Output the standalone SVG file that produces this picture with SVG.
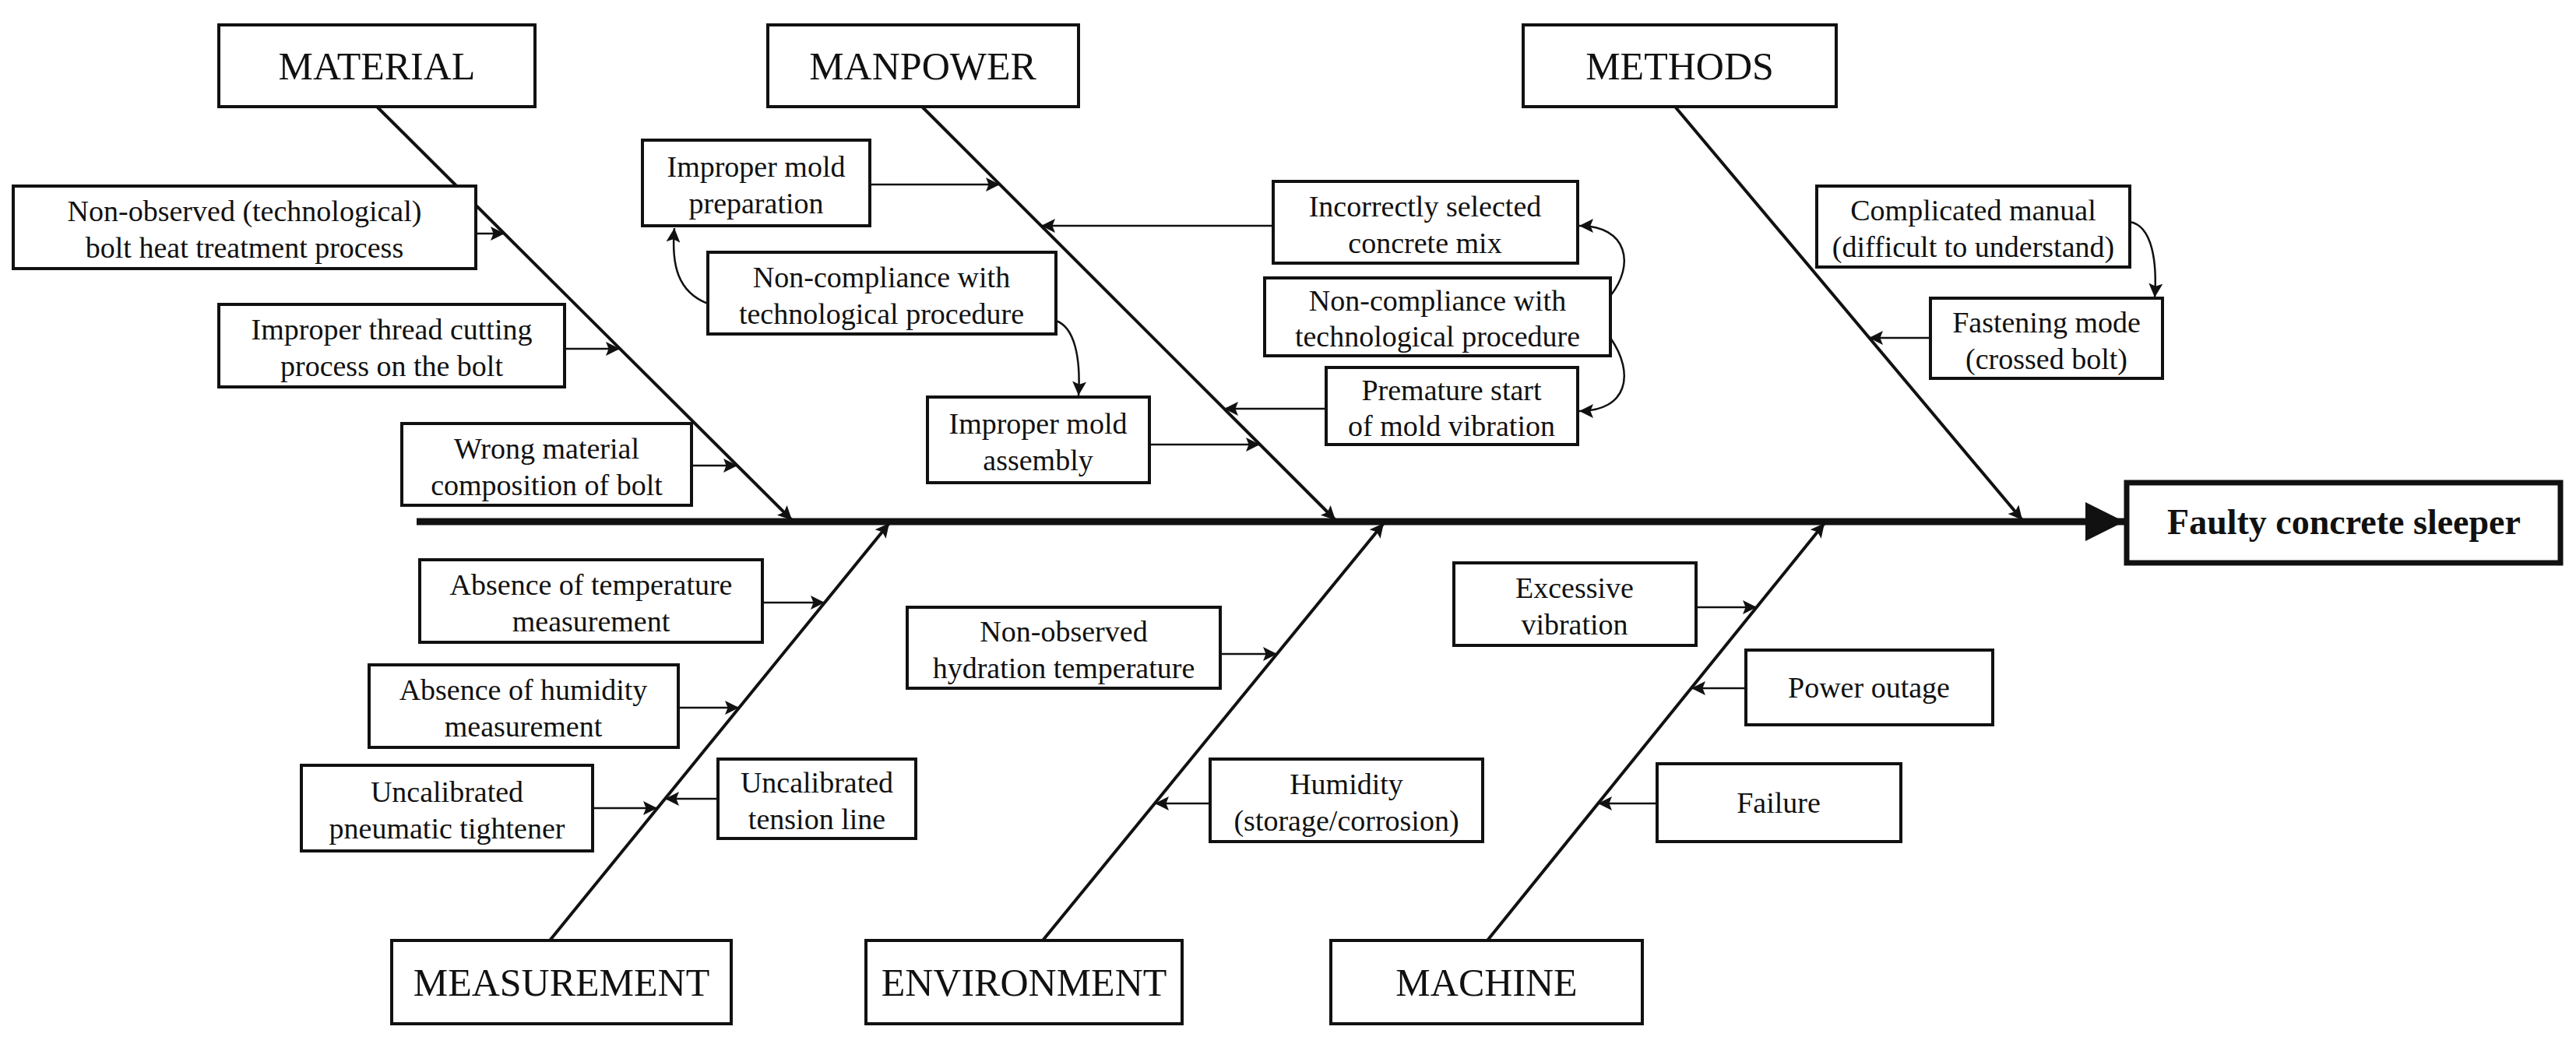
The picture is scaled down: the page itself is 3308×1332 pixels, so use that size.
<svg xmlns="http://www.w3.org/2000/svg" width="3308" height="1332" viewBox="0 0 3308 1332">
<style>
text{font-family:"Liberation Serif","Times New Roman",serif;fill:#111;text-anchor:middle}
.c{font-size:38px}
.cat{font-size:50px}
.b{fill:#fff;stroke:#111;stroke-width:4}
.bone{stroke:#111;stroke-width:4;fill:none}
.a{stroke:#111;stroke-width:2.5;fill:none}
</style>
<defs>
<marker id="ah" viewBox="0 0 10 10" refX="10" refY="5" markerWidth="10" markerHeight="10" markerUnits="userSpaceOnUse" orient="auto"><path d="M0,0 L10,5 L0,10 z" fill="#111"/></marker>
<marker id="am" viewBox="0 0 10 10" refX="10" refY="5" markerWidth="22" markerHeight="18" markerUnits="userSpaceOnUse" orient="auto"><path d="M0,0 L10,5 L0,10 L2,5 z" fill="#111"/></marker>
<marker id="big" viewBox="0 0 10 10" refX="10" refY="5" markerWidth="62" markerHeight="50" markerUnits="userSpaceOnUse" orient="auto"><path d="M0,0 L10,5 L0,10 z" fill="#111"/></marker>
</defs>
<rect width="3308" height="1332" fill="#fff"/>
<g id="connectors">
<line x1="535" y1="670" x2="2728" y2="670" stroke="#111" stroke-width="9" marker-end="url(#big)"/>
<line class="bone" x1="484" y1="137" x2="1017" y2="668" marker-end="url(#am)"/>
<line class="bone" x1="1184" y1="137" x2="1715" y2="668" marker-end="url(#am)"/>
<line class="bone" x1="2151" y1="137" x2="2597" y2="668" marker-end="url(#am)"/>
<line class="bone" x1="706" y1="1208" x2="1142" y2="672" marker-end="url(#am)"/>
<line class="bone" x1="1339" y1="1208" x2="1777" y2="672" marker-end="url(#am)"/>
<line class="bone" x1="1910" y1="1208" x2="2343" y2="672" marker-end="url(#am)"/>
<line class="a" x1="611" y1="300" x2="648" y2="300" marker-end="url(#am)"/>
<line class="a" x1="725" y1="448" x2="796" y2="448" marker-end="url(#am)"/>
<line class="a" x1="888" y1="598" x2="947" y2="598" marker-end="url(#am)"/>
<line class="a" x1="1117" y1="237" x2="1284" y2="237" marker-end="url(#am)"/>
<line class="a" x1="1476" y1="571" x2="1618" y2="571" marker-end="url(#am)"/>
<line class="a" x1="1635" y1="290" x2="1337" y2="290" marker-end="url(#am)"/>
<line class="a" x1="1703" y1="525" x2="1572" y2="525" marker-end="url(#am)"/>
<line class="a" x1="2479" y1="434" x2="2400" y2="434" marker-end="url(#am)"/>
<line class="a" x1="979" y1="774" x2="1059" y2="774" marker-end="url(#am)"/>
<line class="a" x1="871" y1="909" x2="949" y2="909" marker-end="url(#am)"/>
<line class="a" x1="761" y1="1038" x2="844" y2="1038" marker-end="url(#am)"/>
<line class="a" x1="922" y1="1026" x2="854" y2="1026" marker-end="url(#am)"/>
<line class="a" x1="1567" y1="840" x2="1640" y2="840" marker-end="url(#am)"/>
<line class="a" x1="1554" y1="1032" x2="1483" y2="1032" marker-end="url(#am)"/>
<line class="a" x1="2178" y1="780" x2="2256" y2="780" marker-end="url(#am)"/>
<line class="a" x1="2242" y1="884" x2="2172" y2="884" marker-end="url(#am)"/>
<line class="a" x1="2128" y1="1032" x2="2052" y2="1032" marker-end="url(#am)"/>
<path class="a" d="M909,390 C870,375 862,340 866,293" marker-end="url(#am)"/>
<path class="a" d="M1356,412 C1380,420 1388,460 1385,508" marker-end="url(#am)"/>
<path class="a" d="M2068,380 C2100,340 2090,290 2028,290" marker-end="url(#am)"/>
<path class="a" d="M2068,434 C2100,480 2090,528 2028,528" marker-end="url(#am)"/>
<path class="a" d="M2735,285 C2765,290 2770,340 2767,382" marker-end="url(#am)"/>
</g>
<g id="material"><rect class="b" x="281" y="32" width="406" height="105"/><text class="cat" x="484" y="102">MATERIAL</text></g>
<g id="manpower"><rect class="b" x="986" y="32" width="399" height="105"/><text class="cat" x="1185" y="102">MANPOWER</text></g>
<g id="methods"><rect class="b" x="1956" y="32" width="402" height="105"/><text class="cat" x="2157" y="102">METHODS</text></g>
<g id="measurement"><rect class="b" x="503" y="1208" width="436" height="107"/><text class="cat" x="721" y="1279">MEASUREMENT</text></g>
<g id="environment"><rect class="b" x="1112" y="1208" width="406" height="107"/><text class="cat" x="1315" y="1279">ENVIRONMENT</text></g>
<g id="machine"><rect class="b" x="1709" y="1208" width="400" height="107"/><text class="cat" x="1909" y="1279">MACHINE</text></g>
<g id="effect"><rect x="2731" y="620" width="557" height="103" fill="#fff" stroke="#111" stroke-width="7"/><text x="3010" y="686" font-size="46" font-weight="bold">Faulty concrete sleeper</text></g>
<g id="c1"><rect class="b" x="17" y="239" width="594" height="106"/><text class="c" x="314" y="284">Non-observed (technological)</text><text class="c" x="314" y="331">bolt heat treatment process</text></g>
<g id="c2"><rect class="b" x="281" y="391" width="444" height="106"/><text class="c" x="503" y="436">Improper thread cutting</text><text class="c" x="503" y="483">process on the bolt</text></g>
<g id="c3"><rect class="b" x="516" y="544" width="372" height="105"/><text class="c" x="702" y="589">Wrong material</text><text class="c" x="702" y="636">composition of bolt</text></g>
<g id="c4"><rect class="b" x="825" y="180" width="292" height="110"/><text class="c" x="971" y="227">Improper mold</text><text class="c" x="971" y="274">preparation</text></g>
<g id="c5"><rect class="b" x="909" y="324" width="447" height="105"/><text class="c" x="1132" y="369">Non-compliance with</text><text class="c" x="1132" y="416">technological procedure</text></g>
<g id="c6"><rect class="b" x="1191" y="510" width="285" height="110"/><text class="c" x="1333" y="557">Improper mold</text><text class="c" x="1333" y="604">assembly</text></g>
<g id="c7"><rect class="b" x="1635" y="233" width="391" height="105"/><text class="c" x="1830" y="278">Incorrectly selected</text><text class="c" x="1830" y="325">concrete mix</text></g>
<g id="c8"><rect class="b" x="1624" y="357" width="444" height="100"/><text class="c" x="1846" y="399">Non-compliance with</text><text class="c" x="1846" y="445">technological procedure</text></g>
<g id="c9"><rect class="b" x="1703" y="472" width="323" height="99"/><text class="c" x="1864" y="514">Premature start</text><text class="c" x="1864" y="560">of mold vibration</text></g>
<g id="c10"><rect class="b" x="2333" y="239" width="402" height="104"/><text class="c" x="2534" y="283">Complicated manual</text><text class="c" x="2534" y="330">(difficult to understand)</text></g>
<g id="c11"><rect class="b" x="2479" y="383" width="298" height="103"/><text class="c" x="2628" y="427">Fastening mode</text><text class="c" x="2628" y="474">(crossed bolt)</text></g>
<g id="c12"><rect class="b" x="539" y="719" width="440" height="106"/><text class="c" x="759" y="764">Absence of temperature</text><text class="c" x="759" y="811">measurement</text></g>
<g id="c13"><rect class="b" x="474" y="854" width="397" height="106"/><text class="c" x="672" y="899">Absence of humidity</text><text class="c" x="672" y="946">measurement</text></g>
<g id="c14"><rect class="b" x="387" y="983" width="374" height="110"/><text class="c" x="574" y="1030">Uncalibrated</text><text class="c" x="574" y="1077">pneumatic tightener</text></g>
<g id="c15"><rect class="b" x="922" y="975" width="254" height="102"/><text class="c" x="1049" y="1018">Uncalibrated</text><text class="c" x="1049" y="1065">tension line</text></g>
<g id="c16"><rect class="b" x="1165" y="780" width="402" height="104"/><text class="c" x="1366" y="824">Non-observed</text><text class="c" x="1366" y="871">hydration temperature</text></g>
<g id="c17"><rect class="b" x="1554" y="975" width="350" height="106"/><text class="c" x="1729" y="1020">Humidity</text><text class="c" x="1729" y="1067">(storage/corrosion)</text></g>
<g id="c18"><rect class="b" x="1867" y="723" width="311" height="106"/><text class="c" x="2022" y="768">Excessive</text><text class="c" x="2022" y="815">vibration</text></g>
<g id="c19"><rect class="b" x="2242" y="835" width="317" height="96"/><text class="c" x="2400" y="896">Power outage</text></g>
<g id="c20"><rect class="b" x="2128" y="981" width="313" height="100"/><text class="c" x="2284" y="1044">Failure</text></g>
</svg>
